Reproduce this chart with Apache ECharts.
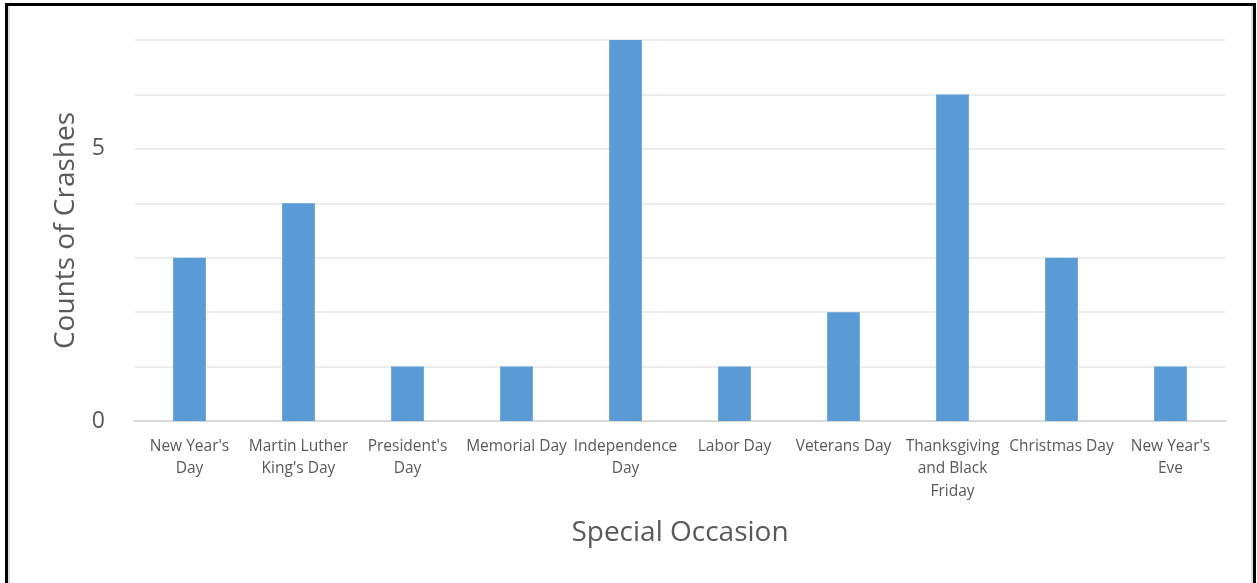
<!DOCTYPE html>
<html>
<head>
<meta charset="utf-8">
<script src="https://cdn.jsdelivr.net/npm/echarts@6/dist/echarts.min.js"></script>
<style>
  html, body { margin: 0; padding: 0; background: #fff; }
  #frame {
    position: absolute; left: 5px; top: 3px; width: 1245px; height: 590px;
    border: 3px solid #000; border-bottom: none;
  }
  #inner {
    position: absolute; left: 0; top: 0; right: 0; bottom: 10px;
    border: 2px solid #dcdcdc; border-top: none;
  }
  #chart { position: absolute; left: 0; top: 0; width: 1257px; height: 583px; }
</style>
</head>
<body>
<div id="frame"><div id="inner"></div></div>
<div id="chart"></div>
<script>
// categories and counts
var occasions = ["New Year's Day", "Martin Luther King's Day", "President's Day", "Memorial Day",
                 "Independence Day", "Labor Day", "Veterans Day", "Thanksgiving and Black Friday",
                 "Christmas Day", "New Year's Eve"];
var tickLabels = ["New Year's\nDay", "Martin Luther\nKing's Day", "President's\nDay", "Memorial Day",
                  "Independence\nDay", "Labor Day", "Veterans Day", "Thanksgiving\nand Black\nFriday",
                  "Christmas Day", "New Year's\nEve"];
var crashes = [3, 4, 1, 1, 7, 1, 2, 6, 3, 1];
var yTicks = [0, 5];

var font = "'Open Sans', sans-serif";
var chart = echarts.init(document.getElementById('chart'));
chart.setOption({
    animation: false,
    grid: { left: 135, right: 32, top: 40, bottom: 162 },
    xAxis: {
        type: 'category',
        data: occasions,
        name: 'Special Occasion',
        nameLocation: 'middle',
        nameGap: 98,
        nameTextStyle: { fontFamily: font, fontSize: 28, color: '#595959' },
        axisTick: { show: false },
        axisLine: { lineStyle: { color: '#d9d9d9', width: 2 } },
        axisLabel: {
            interval: 0,
            margin: 14,
            fontFamily: font,
            fontSize: 15.5,
            lineHeight: 22.5,
            color: '#595959',
            formatter: function (v, i) { return tickLabels[i]; }
        }
    },
    yAxis: {
        type: 'value',
        min: 0,
        max: 7,
        interval: 1,
        name: 'Counts of Crashes',
        nameLocation: 'middle',
        nameGap: 55,
        nameTextStyle: { fontFamily: font, fontSize: 28, color: '#595959' },
        axisLine: { show: false },
        axisTick: { show: false },
        splitLine: { lineStyle: { color: '#ececec', width: 2 } },
        axisLabel: {
            margin: 30,
            fontFamily: font,
            fontSize: 23,
            color: '#595959',
            formatter: function (v) { return yTicks.indexOf(v) >= 0 ? String(v) : ''; }
        }
    },
    series: [{
        type: 'bar',
        data: crashes,
        barWidth: '30%',
        itemStyle: { color: '#5b9bd5' }
    }]
});
</script>
</body>
</html>
